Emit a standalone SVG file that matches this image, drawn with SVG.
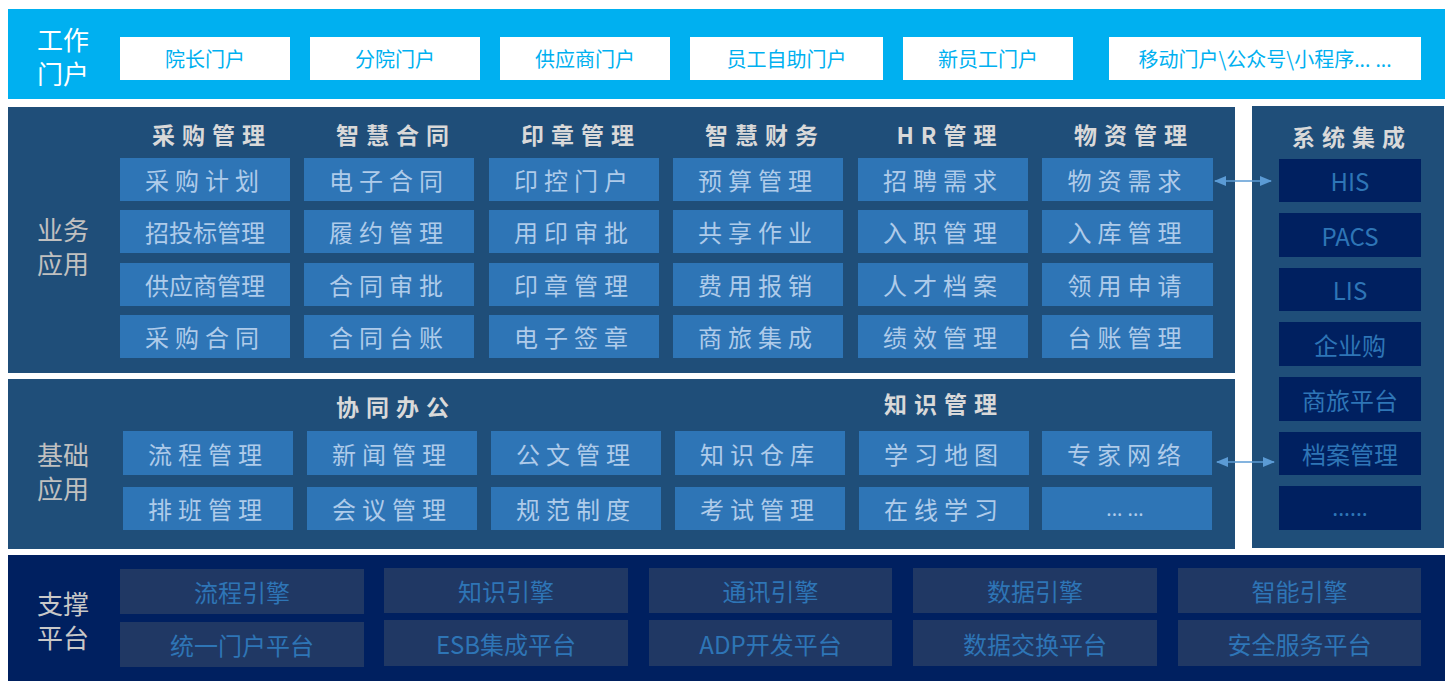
<svg xmlns="http://www.w3.org/2000/svg" width="1453" height="690" viewBox="0 0 1453 690">
<style>
text{font-family:"Noto Sans CJK SC","Microsoft YaHei","Noto Sans",sans-serif;dominant-baseline:central;text-anchor:middle}
.lbl{font-size:26px}
.top{fill:#00b0f0}
.pbox{fill:#ffffff}
.ptx{fill:#00b0f0;font-size:20px}
.panel{fill:#1f4e79}
.navy{fill:#002060}
.item{fill:#2e75b6}
.itx{fill:#aecbea;font-size:24px;letter-spacing:6px}
.itx5{fill:#aecbea;font-size:24px}
.hdr{fill:#d9d9d9;font-size:23px;font-weight:bold;letter-spacing:7px}
.sbox{fill:#002060}
.stx{fill:#2e75b6;font-size:24px}
.bbox{fill:#203864}
.btx{fill:#2e75b6;font-size:24px}
.dots{font-family:"Noto Sans","DejaVu Sans",sans-serif}
.conn{stroke:#5b9bd5;stroke-width:1.5;fill:none}
</style>
<defs>
<marker id="ah" viewBox="0 0 12 10" refX="11" refY="5" markerWidth="12" markerHeight="10" markerUnits="userSpaceOnUse" orient="auto-start-reverse">
<path d="M0,0 L12,5 L0,10 Z" fill="#5b9bd5"/>
</marker>
</defs>
<rect width="1453" height="690" fill="#ffffff"/>

<g id="portal">
<rect class="top" x="8" y="9" width="1437" height="90"/>
<text class="lbl" fill="#ffffff" x="63" y="38"><tspan x="63" y="38">工作</tspan><tspan x="63" y="72">门户</tspan></text>
<g id="p1"><rect class="pbox" x="120" y="37" width="170" height="43"/><text class="ptx" x="205" y="58.5">院长门户</text></g>
<g id="p2"><rect class="pbox" x="310" y="37" width="170" height="43"/><text class="ptx" x="395" y="58.5">分院门户</text></g>
<g id="p3"><rect class="pbox" x="500" y="37" width="170" height="43"/><text class="ptx" x="585" y="58.5">供应商门户</text></g>
<g id="p4"><rect class="pbox" x="690" y="37" width="193" height="43"/><text class="ptx" x="786.5" y="58.5">员工自助门户</text></g>
<g id="p5"><rect class="pbox" x="903" y="37" width="170" height="43"/><text class="ptx" x="988" y="58.5">新员工门户</text></g>
<g id="p6"><rect class="pbox" x="1109" y="37" width="312" height="43"/><text class="ptx" x="1265" y="58.5">移动门户\公众号\小程序<tspan class="dots">... ...</tspan></text></g>
</g>

<g id="business">
<rect class="panel" x="8" y="107" width="1227" height="266"/>
<text class="lbl" fill="#c0c0c0" x="63" y="228"><tspan x="63" y="228">业务</tspan><tspan x="63" y="262">应用</tspan></text>
<text class="hdr" x="212" y="134">采购管理</text>
<text class="hdr" x="396" y="134">智慧合同</text>
<text class="hdr" x="581" y="134">印章管理</text>
<text class="hdr" x="765" y="134">智慧财务</text>
<text class="hdr" x="950" y="134">HR管理</text>
<text class="hdr" x="1134" y="134">物资管理</text>

<g id="b-c1">
<rect class="item" x="120" y="158" width="170" height="43"/><text class="itx" x="205" y="179.5">采购计划</text>
<rect class="item" x="120" y="210" width="170" height="43"/><text class="itx5" x="205" y="231.5">招投标管理</text>
<rect class="item" x="120" y="263" width="170" height="43"/><text class="itx5" x="205" y="284.5">供应商管理</text>
<rect class="item" x="120" y="315" width="170" height="43"/><text class="itx" x="205" y="336.5">采购合同</text>
</g>
<g id="b-c2">
<rect class="item" x="304" y="158" width="170" height="43"/><text class="itx" x="389" y="179.5">电子合同</text>
<rect class="item" x="304" y="210" width="170" height="43"/><text class="itx" x="389" y="231.5">履约管理</text>
<rect class="item" x="304" y="263" width="170" height="43"/><text class="itx" x="389" y="284.5">合同审批</text>
<rect class="item" x="304" y="315" width="170" height="43"/><text class="itx" x="389" y="336.5">合同台账</text>
</g>
<g id="b-c3">
<rect class="item" x="489" y="158" width="170" height="43"/><text class="itx" x="574" y="179.5">印控门户</text>
<rect class="item" x="489" y="210" width="170" height="43"/><text class="itx" x="574" y="231.5">用印审批</text>
<rect class="item" x="489" y="263" width="170" height="43"/><text class="itx" x="574" y="284.5">印章管理</text>
<rect class="item" x="489" y="315" width="170" height="43"/><text class="itx" x="574" y="336.5">电子签章</text>
</g>
<g id="b-c4">
<rect class="item" x="673" y="158" width="170" height="43"/><text class="itx" x="758" y="179.5">预算管理</text>
<rect class="item" x="673" y="210" width="170" height="43"/><text class="itx" x="758" y="231.5">共享作业</text>
<rect class="item" x="673" y="263" width="170" height="43"/><text class="itx" x="758" y="284.5">费用报销</text>
<rect class="item" x="673" y="315" width="170" height="43"/><text class="itx" x="758" y="336.5">商旅集成</text>
</g>
<g id="b-c5">
<rect class="item" x="858" y="158" width="170" height="43"/><text class="itx" x="943" y="179.5">招聘需求</text>
<rect class="item" x="858" y="210" width="170" height="43"/><text class="itx" x="943" y="231.5">入职管理</text>
<rect class="item" x="858" y="263" width="170" height="43"/><text class="itx" x="943" y="284.5">人才档案</text>
<rect class="item" x="858" y="315" width="170" height="43"/><text class="itx" x="943" y="336.5">绩效管理</text>
</g>
<g id="b-c6">
<rect class="item" x="1042" y="158" width="171" height="43"/><text class="itx" x="1127.5" y="179.5">物资需求</text>
<rect class="item" x="1042" y="210" width="171" height="43"/><text class="itx" x="1127.5" y="231.5">入库管理</text>
<rect class="item" x="1042" y="263" width="171" height="43"/><text class="itx" x="1127.5" y="284.5">领用申请</text>
<rect class="item" x="1042" y="315" width="171" height="43"/><text class="itx" x="1127.5" y="336.5">台账管理</text>
</g>
</g>

<g id="basic">
<rect class="panel" x="8" y="379" width="1227" height="170"/>
<text class="lbl" fill="#c0c0c0" x="63" y="453"><tspan x="63" y="453">基础</tspan><tspan x="63" y="487">应用</tspan></text>
<text class="hdr" x="396" y="406">协同办公</text>
<text class="hdr" x="944" y="403">知识管理</text>
<g id="basic-row1">
<rect class="item" x="123" y="431" width="170" height="44"/><text class="itx" x="208" y="453">流程管理</text>
<rect class="item" x="307" y="431" width="170" height="44"/><text class="itx" x="392" y="453">新闻管理</text>
<rect class="item" x="491" y="431" width="170" height="44"/><text class="itx" x="576" y="453">公文管理</text>
<rect class="item" x="675" y="431" width="170" height="44"/><text class="itx" x="760" y="453">知识仓库</text>
<rect class="item" x="859" y="431" width="170" height="44"/><text class="itx" x="944" y="453">学习地图</text>
<rect class="item" x="1042" y="431" width="170" height="44"/><text class="itx" x="1127" y="453">专家网络</text>
</g>
<g id="basic-row2">
<rect class="item" x="123" y="487" width="170" height="43"/><text class="itx" x="208" y="508.5">排班管理</text>
<rect class="item" x="307" y="487" width="170" height="43"/><text class="itx" x="392" y="508.5">会议管理</text>
<rect class="item" x="491" y="487" width="170" height="43"/><text class="itx" x="576" y="508.5">规范制度</text>
<rect class="item" x="675" y="487" width="170" height="43"/><text class="itx" x="760" y="508.5">考试管理</text>
<rect class="item" x="859" y="487" width="170" height="43"/><text class="itx" x="944" y="508.5">在线学习</text>
<rect class="item" x="1042" y="487" width="170" height="43"/><text class="itx5 dots" x="1125" y="508.5" style="font-size:20px">... ...</text>
</g>
</g>

<g id="integration">
<rect class="panel" x="1252" y="106" width="192" height="442"/>
<text class="hdr" x="1352" y="136">系统集成</text>
<rect class="sbox" x="1279" y="159" width="142" height="43"/><text class="stx" x="1350" y="180.5">HIS</text>
<rect class="sbox" x="1279" y="213" width="142" height="44"/><text class="stx" x="1350" y="235">PACS</text>
<rect class="sbox" x="1279" y="268" width="142" height="43"/><text class="stx" x="1350" y="289.5">LIS</text>
<rect class="sbox" x="1279" y="322" width="142" height="44"/><text class="stx" x="1350" y="344">企业购</text>
<rect class="sbox" x="1279" y="377" width="142" height="44"/><text class="stx" x="1350" y="399">商旅平台</text>
<rect class="sbox" x="1279" y="432" width="142" height="43"/><text class="stx" x="1350" y="453.5">档案管理</text>
<rect class="sbox" x="1279" y="486" width="142" height="44"/><text class="stx dots" x="1350" y="507" style="font-size:22px">......</text>
</g>

<g id="platform">
<rect class="navy" x="8" y="555" width="1437" height="126"/>
<text class="lbl" fill="#c8c8c8" x="63" y="602"><tspan x="63" y="602">支撑</tspan><tspan x="63" y="636">平台</tspan></text>
<rect class="bbox" x="120" y="569" width="244" height="45"/><text class="btx" x="242" y="591.5">流程引擎</text>
<rect class="bbox" x="384" y="568" width="244" height="45"/><text class="btx" x="506" y="590.5">知识引擎</text>
<rect class="bbox" x="649" y="568" width="243" height="45"/><text class="btx" x="770.5" y="590.5">通讯引擎</text>
<rect class="bbox" x="913" y="568" width="244" height="45"/><text class="btx" x="1035" y="590.5">数据引擎</text>
<rect class="bbox" x="1178" y="568" width="243" height="45"/><text class="btx" x="1299.5" y="590.5">智能引擎</text>
<rect class="bbox" x="120" y="622" width="244" height="45"/><text class="btx" x="242" y="644.5">统一门户平台</text>
<rect class="bbox" x="384" y="620" width="244" height="46"/><text class="btx" x="506" y="643">ESB集成平台</text>
<rect class="bbox" x="649" y="620" width="243" height="46"/><text class="btx" x="770.5" y="643">ADP开发平台</text>
<rect class="bbox" x="913" y="620" width="244" height="46"/><text class="btx" x="1035" y="643">数据交换平台</text>
<rect class="bbox" x="1178" y="620" width="243" height="46"/><text class="btx" x="1299.5" y="643">安全服务平台</text>
</g>

<g id="connectors">
<line class="conn" x1="1215" y1="181" x2="1271" y2="181" marker-start="url(#ah)" marker-end="url(#ah)"/>
<line class="conn" x1="1217" y1="462" x2="1274" y2="462" marker-start="url(#ah)" marker-end="url(#ah)"/>
</g>
</svg>
